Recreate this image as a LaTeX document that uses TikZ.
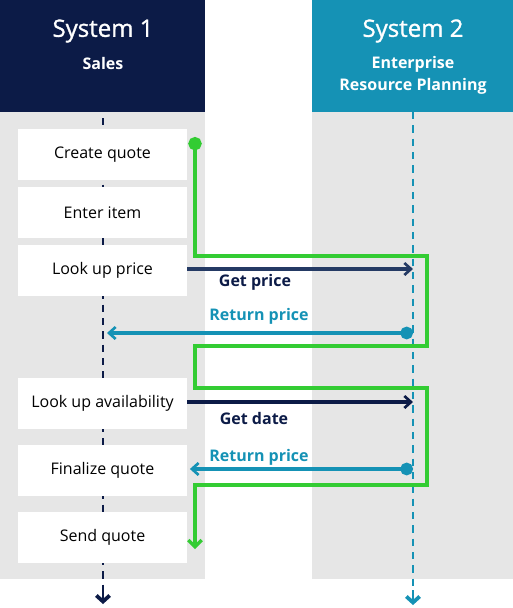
\documentclass[tikz,border=0pt]{standalone}
\usepackage{fontspec}
\setmainfont{Open Sans}
\newfontfamily\headfont[FakeBold=1.2]{Open Sans}
\usetikzlibrary{arrows.meta}
\definecolor{navy}{HTML}{0C1B47}
\definecolor{msgnavy}{HTML}{243A64}
\definecolor{teal}{HTML}{1592B5}
\definecolor{lane}{HTML}{E6E6E6}
\definecolor{flowgreen}{HTML}{33CC33}
\tikzset{
  stepbox/.style={fill=white,minimum width=126.75pt,minimum height=38.25pt,inner sep=0pt,font=\fontsize{12}{14}\selectfont},
  lifeline/.style={line width=1.6pt,dash pattern=on 5.5pt off 4.5pt},
  lifeend/.style={line width=2pt,-{Straight Barb[length=4.5pt,width=10pt,line width=2.8pt]}},
  msg/.style={line width=2.6pt,-{Straight Barb[length=5pt,width=9pt,line width=2pt]}},
  reply/.style={line width=2.6pt,{Circle[length=9.5pt]}-{Straight Barb[length=5pt,width=9pt,line width=2pt]}},
  msglabel/.style={font=\fontsize{12}{14}\selectfont\bfseries},
  flow/.style={flowgreen,line width=3pt,miter limit=10,{Circle[length=10pt]}-{Straight Barb[length=5pt,width=10pt,line width=2.4pt]}}
}
\begin{document}
\begin{tikzpicture}[x=0.75pt,y=-0.75pt]
        \useasboundingbox (0,0) rectangle (513,608);
        \fill[navy] (0,0) rectangle (205,112);
        \fill[teal] (312,0) rectangle (513,112);
        \fill[lane] (0,112) rectangle (205,579);
        \fill[lane] (312,112) rectangle (513,579);

        \node[white,font=\fontsize{18}{22}\headfont] (sys1) at (103,31) {System 1};
        \node[white,font=\fontsize{12}{15}\selectfont\bfseries] (sales) at (103,63) {Sales};
        \node[white,font=\fontsize{18}{22}\headfont] (sys2) at (413,31) {System 2};
        \node[white,align=center,font=\fontsize{12}{16.5}\selectfont\bfseries] (erp) at (413,75) {Enterprise\\Resource Planning};

        \coordinate (top1) at (103,118);
        \coordinate (end1) at (103,604);
        \coordinate (top2) at (413,112);
        \coordinate (end2) at (413,605);
        \draw[navy,lifeline] (top1) -- (103,592);
        \draw[teal,lifeline] (top2) -- (413,592);
        \draw[navy,lifeend] (103,590) -- (end1);
        \draw[teal,lifeend] (413,590) -- (end2);

        \node[stepbox] (create) at (102.5,154.5) {Create quote};
        \node[stepbox] (item) at (102.5,212.5) {Enter item};
        \node[stepbox] (price) at (102.5,270) {Look up price};
        \node[stepbox] (avail) at (102.5,403.5) {Look up availability};
        \node[stepbox] (final) at (102.5,470.5) {Finalize quote};
        \node[stepbox] (send) at (102.5,537.5) {Send quote};

        \coordinate (getp) at (413,269);
        \coordinate (retp) at (413,333);
        \coordinate (retp1) at (107,333);
        \coordinate (getd) at (413,402);
        \coordinate (retd) at (413,469);
        \draw[msgnavy,msg] (price.east |- getp) -- (getp);
        \draw[teal,reply] (retp) -- (retp1);
        \draw[navy,msg] (avail.east |- getd) -- (getd);
        \draw[teal,reply] (retd) -- ([xshift=2pt]final.east |- retd);

        \node[msglabel,text=navy] (getplabel) at (255,282) {Get price};
        \node[msglabel,text=teal] (retplabel) at (259,316) {Return price};
        \node[msglabel,text=navy] (getdlabel) at (254,418) {Get date};
        \node[msglabel,text=teal] (retdlabel) at (259,457) {Return price};

        \coordinate (start) at (195,137);
        \coordinate (stop) at (195,549);
        \draw[flow] (start) -- (195,256) -- (427,256) -- (427,346) -- (195,346)
          -- (195,388) -- (427,388) -- (427,485) -- (195,485) -- (stop);
    \end{tikzpicture}
\end{document}
